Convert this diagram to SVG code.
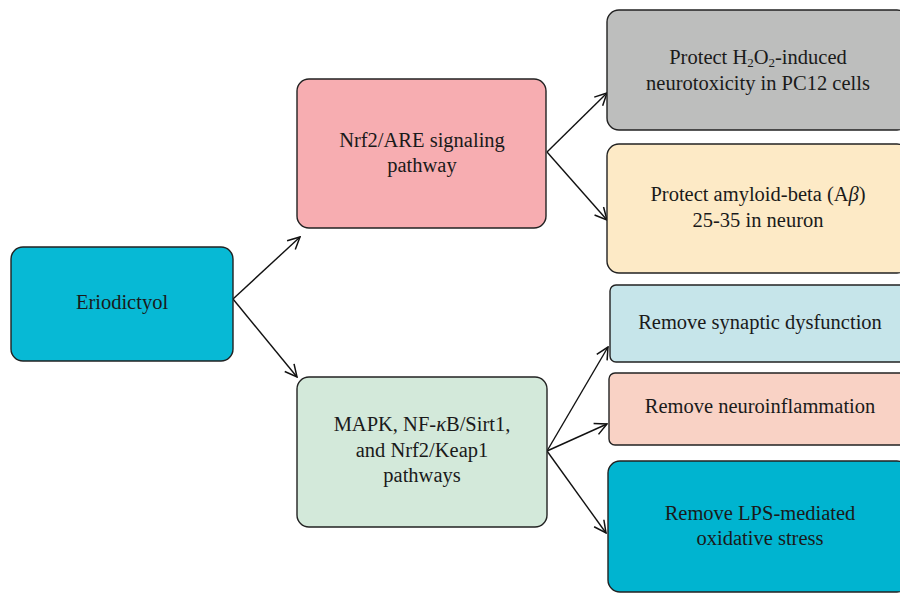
<svg xmlns="http://www.w3.org/2000/svg" width="900" height="593" viewBox="0 0 900 593">
  <defs>
    <marker id="arrow" viewBox="0 0 14 14" refX="13" refY="7" markerWidth="14" markerHeight="14" markerUnits="userSpaceOnUse" orient="auto">
      <path d="M1,1 L13,7 L1,13" fill="none" stroke="#111" stroke-width="1.5" stroke-linejoin="miter"/>
    </marker>
  </defs>
  <style>
    .box { stroke: #222; stroke-width: 1.4; }
    .lbl { font-family: "Liberation Serif", "Times New Roman", serif; font-size: 20.5px; fill: #1a1a1a; text-anchor: middle; }
    .sub { font-size: 13px; }
    .edge { stroke: #111; stroke-width: 1.4; fill: none; marker-end: url(#arrow); }
  </style>
  <rect width="900" height="593" fill="#ffffff"/>

  <!-- connectors -->
  <g id="connectors">
    <line class="edge" x1="233" y1="299" x2="300" y2="237"/>
    <line class="edge" x1="233" y1="299" x2="297" y2="377"/>
    <line class="edge" x1="547" y1="152" x2="607" y2="93"/>
    <line class="edge" x1="547" y1="152" x2="607" y2="220"/>
    <line class="edge" x1="547" y1="451" x2="608" y2="347"/>
    <line class="edge" x1="547" y1="451" x2="607" y2="424"/>
    <line class="edge" x1="547" y1="451" x2="606" y2="533"/>
  </g>

  <!-- root -->
  <g id="eriodictyol">
    <rect class="box" x="11" y="247" width="222" height="114" rx="12" fill="#07b9d5"/>
    <text class="lbl" x="122" y="309">Eriodictyol</text>
  </g>

  <!-- pathways -->
  <g id="nrf2-are">
    <rect class="box" x="297" y="79" width="249" height="149" rx="12" fill="#f7adb1"/>
    <text class="lbl" x="422" y="147">Nrf2/ARE signaling</text>
    <text class="lbl" x="422" y="172">pathway</text>
  </g>

  <g id="mapk">
    <rect class="box" x="297" y="377" width="250" height="150" rx="12" fill="#d3e9da"/>
    <text class="lbl" x="422" y="431">MAPK, NF-<tspan font-style="italic">κ</tspan>B/Sirt1,</text>
    <text class="lbl" x="422" y="457">and Nrf2/Keap1</text>
    <text class="lbl" x="422" y="482">pathways</text>
  </g>

  <!-- outcomes -->
  <g id="h2o2">
    <rect class="box" x="607" y="10" width="302" height="120" rx="12" fill="#bdbebd"/>
    <text class="lbl" x="758" y="64">Protect H<tspan class="sub" dy="3">2</tspan><tspan dy="-3">O</tspan><tspan class="sub" dy="3">2</tspan><tspan dy="-3">-induced</tspan></text>
    <text class="lbl" x="758" y="90">neurotoxicity in PC12 cells</text>
  </g>

  <g id="amyloid">
    <rect class="box" x="607" y="144" width="302" height="129" rx="12" fill="#fdeac6"/>
    <text class="lbl" x="758" y="201">Protect amyloid-beta (A<tspan font-style="italic">β</tspan>)</text>
    <text class="lbl" x="758" y="227">25-35 in neuron</text>
  </g>

  <g id="synaptic">
    <rect class="box" x="610" y="285" width="299" height="77" rx="6" fill="#c6e5ea"/>
    <text class="lbl" x="760" y="329">Remove synaptic dysfunction</text>
  </g>

  <g id="neuroinflammation">
    <rect class="box" x="609" y="373" width="300" height="72" rx="6" fill="#f9d2c5"/>
    <text class="lbl" x="760" y="413">Remove neuroinflammation</text>
  </g>

  <g id="oxidative">
    <rect class="box" x="608" y="461" width="301" height="131" rx="12" fill="#00b4d0"/>
    <text class="lbl" x="760" y="520">Remove LPS-mediated</text>
    <text class="lbl" x="760" y="545">oxidative stress</text>
  </g>
</svg>
